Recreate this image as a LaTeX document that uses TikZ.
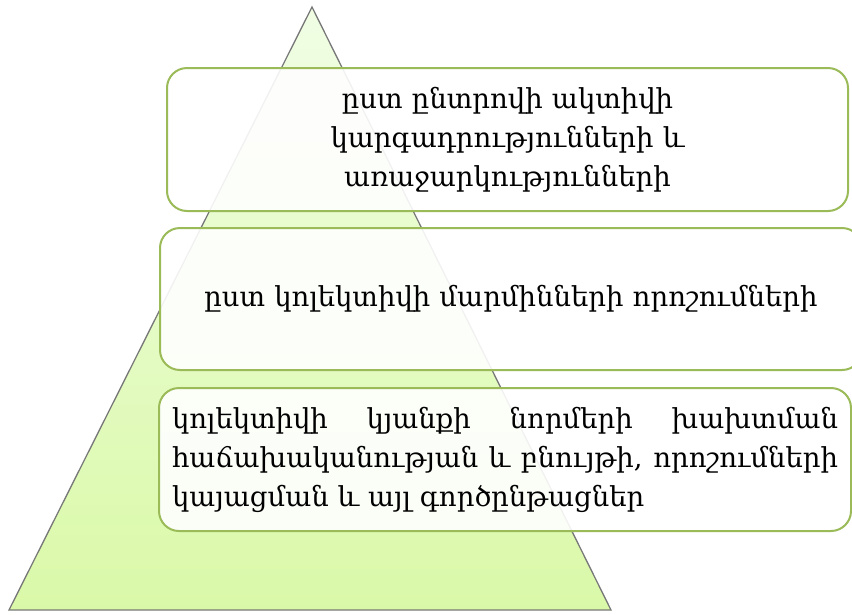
\documentclass[tikz,border=0pt]{standalone}
\usepackage{fontspec}
\setmainfont{DejaVu Serif}
\usetikzlibrary{positioning}
\definecolor{BoxGreen}{RGB}{155,187,89}
\definecolor{PyrTop}{RGB}{240,253,228}
\definecolor{PyrBottom}{RGB}{218,249,168}
\definecolor{EdgeGray}{RGB}{120,120,120}

\begin{document}
\begin{tikzpicture}[x=1pt,y=-1pt,
	level/.style={rectangle,draw=BoxGreen,line width=2pt,rounded corners=20pt,
	fill=white,fill opacity=0.9,text opacity=1,font=\fontsize{27.5}{39}\selectfont}]
			\useasboundingbox (0,0) rectangle (852,614);
			\coordinate (apex) at (312,7);
			\coordinate (baseL) at (9,610);
			\coordinate (baseR) at (611,610);
			\shade [top color=PyrTop,bottom color=PyrBottom,draw=EdgeGray,line width=1.3pt]
			(apex) -- (baseR) -- (baseL) -- cycle;
			\node [level,minimum width=681pt,minimum height=143pt,text width=500pt,
			align=center, name = top] at (507.5,139.5) {ըստ ընտրովի ակտիվի\\ կարգադրությունների և\\ առաջարկությունների};
			\node [level,minimum width=702pt,minimum height=142pt,text width=660pt,
			align=center, name = mid] at (511,299) {ըստ կոլեկտիվի մարմինների որոշումների};
			\node [level,minimum width=692pt,minimum height=143pt,text width=666pt,
			align=justify, name = low] at (505,459.5) {կոլեկտիվի կյանքի նորմերի խախտման\linebreak հաճախականության և բնույթի, որոշումների\linebreak կայացման և այլ գործընթացներ};
		\end{tikzpicture}
\end{document}
